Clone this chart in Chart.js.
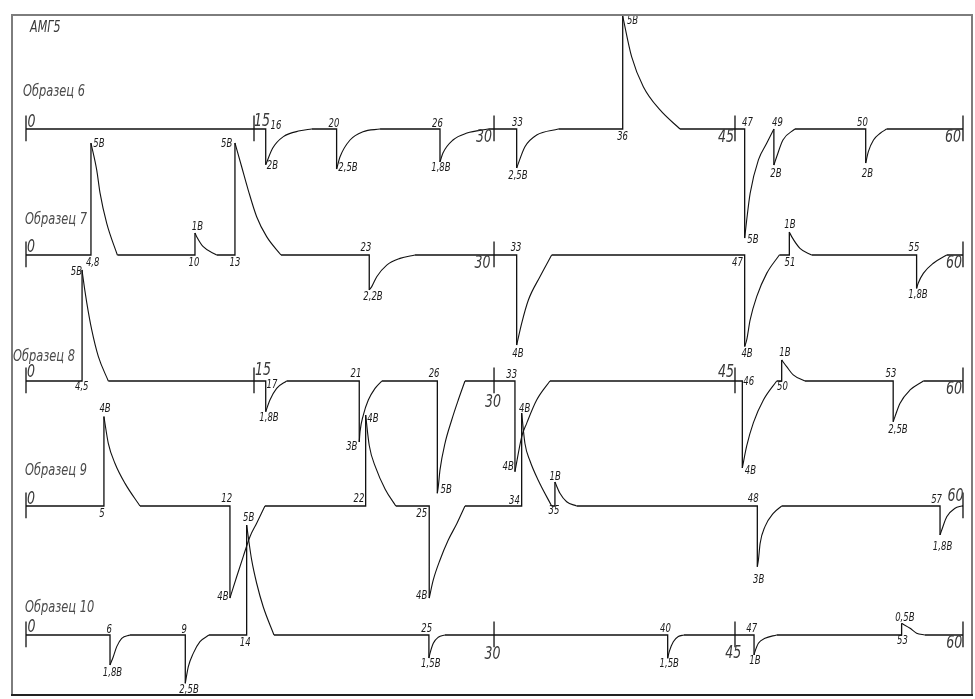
<!DOCTYPE html>
<html><head><meta charset="utf-8">
<script src="https://cdn.jsdelivr.net/npm/chart.js@4"></script>
<style>html,body{margin:0;padding:0;background:#fff}canvas{display:block}</style>
</head><body>
<canvas id="c" width="975" height="699"></canvas>
<script>
// ---------- DATA ----------
const materialName = 'АМГ5';
const seriesNames = ['Образец 6','Образец 7','Образец 8','Образец 9','Образец 10'];
const tickLabels = ['0','15','30','45','60'];
const tickPositions = [0, 14.6, 29.97, 45.4, 60];   // drawn positions of the time marks

// Образец 6  ([time, voltage]; null = break)
const lines6 = [
 [0,0],[15.35,0],[15.35,-1.6],null,
 [18.29,0],[19.89,0],[19.89,-1.79],null,
 [22.67,0],[26.51,0],[26.51,-1.47],null,
 [29.6,0],[31.42,0],[31.42,-1.74],null,
 [34.09,0],[38.21,0],[38.21,5.04],null,
 [41.88,0],[46.02,0],[46.02,-4.87],null,
 [47.89,0],[47.89,-1.61],null,
 [49.24,0],[53.77,0],[53.77,-1.52],null,
 [55.11,0],[60,0]
];
const curves6 = [
 [15.35,-1.6],[15.79,-0.86],[16.48,-0.34],[17.54,-0.08],[18.29,0],null,
 [19.89,-1.79],[20.11,-1.24],[20.75,-0.49],[21.58,-0.12],[22.67,0],null,
 [26.51,-1.47],[26.70,-1.07],[27.34,-0.49],[28.24,-0.18],[29.6,0],null,
 [31.42,-1.74],[31.95,-0.79],[32.70,-0.27],[34.09,0],null,
 [38.21,5.04],[38.78,3.23],[39.53,1.89],[40.60,0.85],[41.88,0],null,
 [46.02,-4.87],[46.15,-4.06],[46.37,-2.87],[46.90,-1.38],[47.43,-0.64],[47.89,0],null,
 [47.89,-1.61],[48.07,-1.24],[48.47,-0.49],[49.24,0],null,
 [53.77,-1.52],[53.94,-1.01],[54.27,-0.49],[54.70,-0.19],[55.11,0]
];
const ticks6 = [0,1,2,3,4];
const axisLabels6 = [[0,0.36,0.29],[1,15.11,0.31],[2,29.33,-0.38],[3,44.82,-0.40],[4,59.36,-0.40]];
const marks6 = [
 [16.01,0.13,'16'],[15.78,-1.65,'2В'],
 [19.72,0.22,'20'],[20.62,-1.74,'2,5В'],
 [26.35,0.22,'26'],[26.57,-1.74,'1,8В'],
 [31.47,0.25,'33'],[31.50,-2.10,'2,5В'],
 [38.20,-0.36,'36'],[38.84,4.80,'5В'],
 [46.20,0.29,'47'],[46.55,-4.96,'5В'],
 [48.12,0.27,'49'],[48.02,-2.01,'2В'],
 [53.56,0.27,'50'],[53.88,-2.01,'2В']
];

// Образец 7
const lines7 = [
 [0,0],[4.16,0],[4.16,5.0],null,
 [5.85,0],[10.82,0],[10.82,0.98],null,
 [12.21,0],[13.38,0],[13.38,5.0],null,
 [16.33,0],[21.98,0],[21.98,-1.56],null,
 [24.91,0],[31.42,0],[31.42,-4.02],null,
 [33.66,0],[46.02,0],[46.02,-4.09],null,
 [48.24,0],[48.88,0],[48.88,1.03],null,
 [50.31,0],[57.03,0],[57.03,-1.49],null,
 [58.96,0],[60,0]
];
const curves7 = [
 [4.16,5.0],[4.53,3.79],[4.74,2.77],[5.17,1.41],[5.85,0],null,
 [10.82,0.98],[10.93,0.82],[11.35,0.37],[12.21,0],null,
 [13.38,5.0],[13.81,3.94],[14.23,2.9],[14.77,1.71],[15.41,0.82],[16.33,0],null,
 [21.98,-1.56],[22.14,-1.41],[22.46,-0.97],[23.10,-0.45],[23.95,-0.15],[24.91,0],null,
 [31.42,-4.02],[31.74,-3.05],[32.17,-2.01],[32.91,-0.97],[33.66,0],null,
 [46.02,-4.09],[46.15,-3.79],[46.37,-2.9],[46.79,-1.86],[47.43,-0.82],[48.24,0],null,
 [48.88,1.03],[49.03,0.82],[49.56,0.3],[50.31,0],null,
 [57.03,-1.49],[57.13,-1.26],[57.46,-0.82],[58.10,-0.37],[58.96,0]
];
const ticks7 = [0,2,4];
const axisLabels7 = [[0,0.32,0.33],[2,29.23,-0.40],[4,59.42,-0.38]];
const marks7 = [
 [4.67,4.96,'5В'],[4.27,-0.36,'4,8'],
 [10.76,-0.36,'10'],[10.98,1.27,'1В'],
 [13.38,-0.36,'13'],[12.85,4.96,'5В'],
 [21.77,0.31,'23'],[22.22,-1.86,'2,2В'],
 [31.38,0.31,'33'],[31.50,-4.42,'4В'],
 [45.56,-0.36,'47'],[46.17,-4.42,'4В'],
 [48.92,1.32,'1В'],[48.92,-0.36,'51'],
 [56.86,0.31,'55'],[57.12,-1.79,'1,8В']
];

// Образец 8
const lines8 = [
 [0,0],[3.59,0],[3.59,4.96],null,
 [5.27,0],[15.35,0],[15.35,-1.37],null,
 [16.69,0],[21.34,0],[21.34,-2.72],null,
 [22.78,0],[26.34,0],[26.34,-5.01],null,
 [28.11,0],[31.31,0],[31.31,-4.05],null,
 [33.55,0],[45.87,0],[45.87,-3.88],null,
 [48.07,0],[48.39,0],[48.39,0.94],null,
 [49.88,0],[55.53,0],[55.53,-1.82],null,
 [57.46,0],[60,0]
];
const curves8 = [
 [3.59,4.96],[3.63,4.73],[3.89,3.50],[4.21,2.28],[4.63,1.10],[5.27,0],null,
 [15.35,-1.37],[15.62,-0.85],[16.05,-0.33],[16.69,0],null,
 [21.34,-2.72],[21.39,-2.26],[21.60,-1.52],[21.92,-0.85],[22.35,-0.33],[22.78,0],null,
 [26.34,-5.01],[26.40,-4.72],[26.51,-3.97],[26.83,-2.78],[27.26,-1.74],[27.68,-0.85],[28.11,0],null,
 [31.31,-4.05],[31.74,-2.49],[32.06,-1.89],[32.70,-0.85],[33.55,0],null,
 [45.87,-3.88],[46.15,-2.90],[46.58,-1.86],[47.22,-0.85],[48.07,0],null,
 [48.39,0.94],[48.71,0.64],[49.13,0.27],[49.88,0],null,
 [55.53,-1.82],[55.64,-1.6],[55.96,-1.0],[56.61,-0.40],[57.46,0]
];
const ticks8 = [0,1,2,3,4];
const axisLabels8 = [[0,0.32,0.38],[1,15.18,0.45],[2,29.90,-0.98],[3,44.82,0.38],[4,59.42,-0.40]];
const marks8 = [
 [3.23,4.87,'5В'],[3.57,-0.25,'4,5'],
 [15.75,-0.20,'17'],[15.56,-1.67,'1,8В'],
 [21.13,0.31,'21'],[20.86,-2.93,'3В'],
 [26.13,0.31,'26'],[26.91,-4.87,'5В'],
 [31.10,0.28,'33'],[30.88,-3.84,'4В'],
 [46.28,-0.04,'46'],[46.39,-4.02,'4В'],
 [48.60,1.25,'1В'],[48.44,-0.29,'50'],
 [55.39,0.31,'53'],[55.84,-2.19,'2,5В']
];

// Образец 9
const lines9 = [
 [0,0],[4.99,0],[4.99,3.99],null,
 [7.30,0],[13.06,0],[13.06,-4.11],null,
 [15.30,0],[21.75,0],[21.75,4.06],null,
 [23.68,0],[25.82,0],[25.82,-4.11],null,
 [28.11,0],[31.74,0],[31.74,4.15],null,
 [33.66,0],[33.87,0],[33.87,1.07],null,
 [35.26,0],[46.83,0],[46.83,-2.71],null,
 [48.39,0],[58.53,0],[58.53,-1.29],null,
 [59.92,0],[60,0]
];
const curves9 = [
 [4.99,3.99],[5.27,2.80],[5.70,1.90],[6.34,1.01],[7.30,0],null,
 [13.06,-4.11],[13.49,-3.16],[13.91,-2.26],[14.34,-1.37],[14.77,-0.77],[15.30,0],null,
 [21.75,4.06],[21.98,2.7],[22.4,1.7],[23.0,0.75],[23.68,0],null,
 [25.82,-4.11],[26.08,-3.3],[26.51,-2.41],[27.04,-1.52],[27.6,-0.77],[28.11,0],null,
 [31.74,4.15],[31.95,2.79],[32.27,2.02],[32.80,1.15],[33.66,0],null,
 [33.87,1.07],[34.19,0.57],[34.62,0.19],[35.26,0],null,
 [46.83,-2.71],[46.90,-2.41],[47.01,-1.67],[47.32,-0.92],[47.85,-0.33],[48.39,0],null,
 [58.53,-1.29],[58.64,-1.07],[58.96,-0.48],[59.49,-0.10],[59.92,0]
];
const ticks9 = [0,4];
const axisLabels9 = [[0,0.32,0.27],[4,59.52,0.40]];
const marks9 = [
 [5.06,4.31,'4В'],[4.87,-0.36,'5'],
 [12.85,0.29,'12'],[12.61,-4.06,'4В'],
 [21.32,0.29,'22'],[22.22,3.88,'4В'],
 [25.34,-0.36,'25'],[25.34,-4.02,'4В'],
 [31.28,0.22,'34'],[31.93,4.33,'4В'],
 [33.89,1.31,'1В'],[33.81,-0.22,'35'],
 [46.57,0.29,'48'],[46.92,-3.30,'3В'],
 [58.31,0.25,'57'],[58.69,-1.83,'1,8В']
];

// Образец 10
const lines10 = [
 [0,0],[5.38,0],[5.38,-1.34],null,
 [6.66,0],[10.20,0],[10.20,-2.16],null,
 [11.72,0],[14.13,0],[14.13,4.91],null,
 [15.88,0],[25.80,0],[25.80,-1.03],null,
 [26.83,0],[41.09,0],[41.09,-1.04],null,
 [42.13,0],[46.62,0],[46.62,-0.89],null,
 [48.07,0],[56.07,0],[56.07,0.52],null,
 [57.56,0],[60,0]
];
const curves10 = [
 [5.38,-1.34],[5.59,-0.97],[5.81,-0.52],[6.13,-0.15],[6.66,0],null,
 [10.20,-2.16],[10.39,-1.42],[10.71,-0.82],[11.14,-0.30],[11.72,0],null,
 [14.13,4.91],[14.23,4.39],[14.45,3.35],[14.77,2.31],[15.19,1.26],[15.88,0],null,
 [25.80,-1.03],[25.87,-0.82],[26.08,-0.37],[26.40,-0.10],[26.83,0],null,
 [41.09,-1.04],[41.19,-0.74],[41.45,-0.30],[41.77,-0.07],[42.13,0],null,
 [46.62,-0.89],[46.68,-0.74],[46.90,-0.37],[47.32,-0.15],[48.07,0],null,
 [56.07,0.52],[56.61,0.30],[57.03,0.08],[57.56,0]
];
const ticks10 = [0,2,3,4];
const axisLabels10 = [[0,0.36,0.33],[2,29.87,-0.89],[3,45.29,-0.85],[4,59.44,-0.37]];
const marks10 = [
 [5.33,0.22,'6'],[5.54,-1.71,'1,8В'],
 [10.13,0.22,'9'],[10.44,-2.46,'2,5В'],
 [14.04,-0.37,'14'],[14.26,5.24,'5В'],
 [25.66,0.25,'25'],[25.92,-1.31,'1,5В'],
 [40.95,0.25,'40'],[41.19,-1.31,'1,5В'],
 [46.47,0.28,'47'],[46.68,-1.17,'1В'],
 [56.28,0.76,'0,5В'],[56.12,-0.25,'53']
];

// annotation anchors (time, voltage relative to each row baseline)
const titleAnchors = [[-0.19,1.63],[-0.06,1.56],[-0.83,1.08],[-0.06,1.56],[-0.06,1.19]];
const materialAnchor = [0.26,4.51];

// ---------- LAYOUT ----------
const rowOffsets = [22.589, 16.964, 11.339, 5.759, 0];
const rows = [
 {lines:lines6, curves:curves6, ticks:ticks6, axis:axisLabels6, marks:marks6},
 {lines:lines7, curves:curves7, ticks:ticks7, axis:axisLabels7, marks:marks7},
 {lines:lines8, curves:curves8, ticks:ticks8, axis:axisLabels8, marks:marks8},
 {lines:lines9, curves:curves9, ticks:ticks9, axis:axisLabels9, marks:marks9},
 {lines:lines10, curves:curves10, ticks:ticks10, axis:axisLabels10, marks:marks10}
];

function toPts(arr, off){
  let lastX = 0;
  return arr.map(p => {
    if (p) { lastX = p[0]; return {x:p[0], y:off + p[1]}; }
    return {x:lastX, y:null};
  });
}
const INK = '#111';
const datasets = [];
rows.forEach((r, i) => {
  const off = rowOffsets[i];
  datasets.push({label: seriesNames[i], data: toPts(r.lines, off), borderColor: INK, borderWidth: 1.3, tension: 0, pointRadius: 0, spanGaps: false});
  datasets.push({label: seriesNames[i] + ' curves', data: toPts(r.curves, off), borderColor: INK, borderWidth: 1.1, cubicInterpolationMode: 'monotone', pointRadius: 0, spanGaps: false});
  const tp = [];
  r.ticks.forEach(k => { const x = tickPositions[k]; tp.push({x, y:off - 0.55}, {x, y:off + 0.6}, {x, y:null}); });
  datasets.push({label: seriesNames[i] + ' ticks', data: tp, borderColor: INK, borderWidth: 1.3, tension: 0, pointRadius: 0, spanGaps: false});
});

function drawText(ctx, txt, px, py, size, color, align, sx){
  ctx.save();
  ctx.translate(px, py);
  ctx.scale(sx, 1);
  ctx.font = 'italic ' + size + 'px "DejaVu Sans", sans-serif';
  ctx.fillStyle = color;
  ctx.textAlign = align;
  ctx.textBaseline = 'middle';
  ctx.fillText(txt, 0, 0);
  ctx.restore();
}

const annotate = {
  id: 'annotate',
  afterDatasetsDraw(chart){
    const {ctx, chartArea: ca, scales:{x, y}} = chart;
    rows.forEach((r, i) => {
      const off = rowOffsets[i];
      r.marks.forEach(m => drawText(ctx, m[2], x.getPixelForValue(m[0]), y.getPixelForValue(off + m[1]), 11.5, '#1a1a1a', 'center', 0.74));
      r.axis.forEach(a => drawText(ctx, tickLabels[a[0]], x.getPixelForValue(a[1]), y.getPixelForValue(off + a[2]), 17, '#3a3a3a', 'center', 0.74));
      const t = titleAnchors[i];
      drawText(ctx, seriesNames[i], x.getPixelForValue(t[0]), y.getPixelForValue(off + t[1]), 15, '#4a4a4a', 'left', 0.76);
    });
    drawText(ctx, materialName, x.getPixelForValue(materialAnchor[0]), y.getPixelForValue(rowOffsets[0] + materialAnchor[1]), 15, '#3a3a3a', 'left', 0.74);
    // frame
    ctx.save();
    ctx.lineWidth = 2;
    ctx.strokeStyle = '#7d7d7d';
    ctx.strokeRect(ca.left, ca.top, ca.right - ca.left, ca.bottom - ca.top);
    ctx.strokeStyle = '#222';
    ctx.beginPath(); ctx.moveTo(ca.left - 1, ca.bottom); ctx.lineTo(ca.right + 1, ca.bottom); ctx.stroke();
    ctx.restore();
  }
};

new Chart(document.getElementById('c'), {
  type: 'line',
  data: {datasets},
  options: {
    responsive: false,
    animation: false,
    devicePixelRatio: 1,
    events: [],
    layout: {padding: {left: 12, top: 15, right: 3, bottom: 4}},
    plugins: {legend: {display: false}, tooltip: {enabled: false}},
    elements: {point: {radius: 0}},
    scales: {
      x: {type: 'linear', min: -0.8965, max: 60.577, display: false},
      y: {type: 'linear', min: -2.679, max: 27.679, display: false}
    }
  },
  plugins: [annotate]
});
</script>
</body></html>
